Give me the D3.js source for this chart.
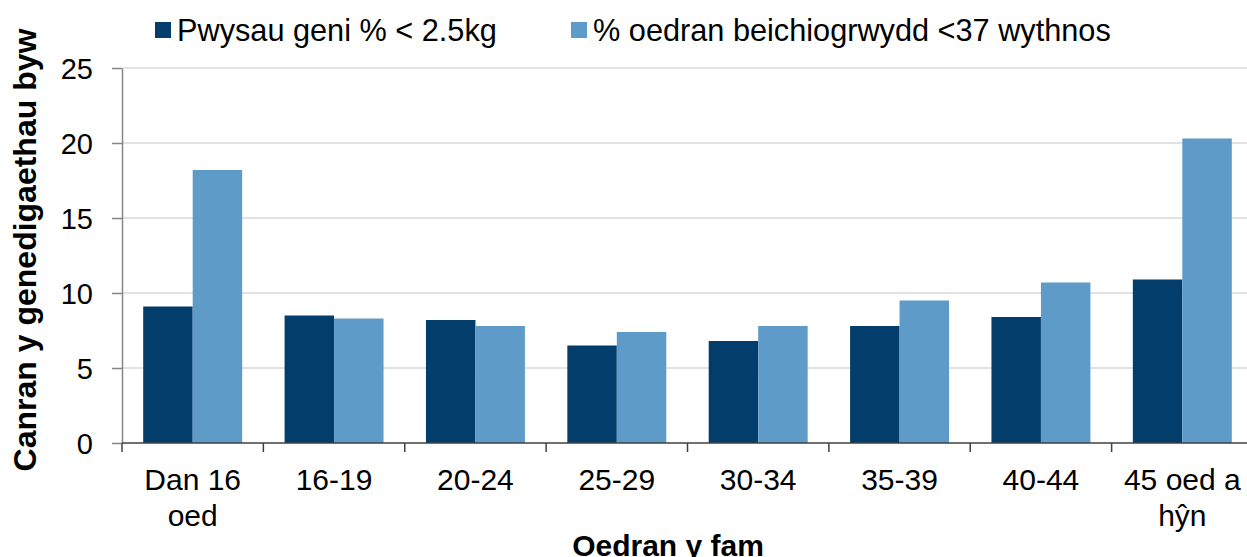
<!DOCTYPE html>
<meta charset="utf-8">
<script src="https://d3js.org/d3.v7.min.js"></script>
<style>
body { margin: 0; background: #fff; }
text { font-family: "Liberation Sans", Arial, sans-serif; fill: #000; }
.grid line { stroke: #d9d9d9; stroke-width: 1.5px; }
.yaxis path, .yaxis line { stroke: #868686; stroke-width: 1.5px; }
.xaxis line { stroke: #404040; stroke-width: 1.5px; }
</style>
<body>
<script>
// age groups of the mother
var categories = ["Dan 16|oed", "16-19", "20-24", "25-29", "30-34", "35-39", "40-44", "45 oed a|hŷn"];
var seriesNames = ["Pwysau geni % < 2.5kg", "% oedran beichiogrwydd <37 wythnos"];
var lowWeight = [9.1, 8.5, 8.2, 6.5, 6.8, 7.8, 8.4, 10.9];
var preterm = [18.2, 8.3, 7.8, 7.4, 7.8, 9.5, 10.7, 20.3];
var yTicks = [0, 5, 10, 15, 20, 25];
var colors = ["#023d6b", "#5e9bc8"];

var width = 1247,
    height = 557;

var svg = d3.select("body").append("svg")
    .attr("width", width)
    .attr("height", height);

var x = d3.scaleBand()
    .domain(categories)
    .range([122, 1253])
    .paddingInner(0.3)
    .paddingOuter(0.15);

var x1 = d3.scaleBand()
    .domain([0, 1])
    .range([0, x.bandwidth()]);

var y = d3.scaleLinear()
    .domain([0, 25])
    .range([443, 68]);

// gridlines
svg.append("g")
    .attr("class", "grid")
    .selectAll("line")
    .data(yTicks.slice(1))
  .enter().append("line")
    .attr("x1", 122)
    .attr("x2", width)
    .attr("y1", d => y(d))
    .attr("y2", d => y(d));

// bars
var rows = categories.map((c, i) => ({cat: c, vals: [lowWeight[i], preterm[i]]}));

var groups = svg.append("g")
    .selectAll("g")
    .data(rows)
  .enter().append("g")
    .attr("transform", d => "translate(" + x(d.cat) + ",0)");

groups.selectAll("rect")
    .data(d => d.vals.map((v, j) => ({v: v, j: j})))
  .enter().append("rect")
    .attr("x", d => x1(d.j))
    .attr("y", d => y(d.v))
    .attr("width", x1.bandwidth())
    .attr("height", d => y(0) - y(d.v))
    .style("fill", d => colors[d.j]);

// y axis
var yAxis = svg.append("g")
    .attr("class", "yaxis")
    .attr("transform", "translate(122,0)")
    .call(d3.axisLeft(y).tickValues(yTicks).tickSize(10).tickPadding(19).tickSizeOuter(0));
yAxis.selectAll("text")
    .style("font-size", "29px")
    .attr("dy", "0.36em");

// x axis with ticks between categories
var xAxis = svg.append("g")
    .attr("class", "xaxis");
xAxis.append("line")
    .attr("x1", 122).attr("x2", width)
    .attr("y1", y(0)).attr("y2", y(0));
xAxis.selectAll(".tick")
    .data(categories)
  .enter().append("line")
    .attr("x1", d => x(d) - x.step() * x.paddingOuter())
    .attr("x2", d => x(d) - x.step() * x.paddingOuter())
    .attr("y1", y(0))
    .attr("y2", y(0) + 9);

var labels = svg.append("g")
    .selectAll("text")
    .data(categories)
  .enter().append("text")
    .attr("x", d => x(d) + x.bandwidth() / 2)
    .attr("y", 490)
    .attr("text-anchor", "middle")
    .style("font-size", "30px");
labels.selectAll("tspan")
    .data(d => d.split("|"))
  .enter().append("tspan")
    .attr("x", function() { return d3.select(this.parentNode).attr("x"); })
    .attr("dy", (d, i) => i ? 36 : 0)
    .text(d => d);

// axis titles
svg.append("text")
    .attr("transform", "translate(36,250) rotate(-90)")
    .attr("text-anchor", "middle")
    .style("font-size", "32px")
    .style("font-weight", "bold")
    .text("Canran y genedigaethau byw");

svg.append("text")
    .attr("x", 668)
    .attr("y", 556)
    .attr("text-anchor", "middle")
    .style("font-size", "30px")
    .style("font-weight", "bold")
    .text("Oedran y fam");

// legend
var legendX = [155, 571];
var legend = svg.append("g")
    .selectAll("g")
    .data(seriesNames)
  .enter().append("g")
    .attr("transform", (d, i) => "translate(" + legendX[i] + ",0)");
legend.append("rect")
    .attr("x", 0).attr("y", 22)
    .attr("width", 16).attr("height", 16)
    .style("fill", (d, i) => colors[i]);
legend.append("text")
    .attr("x", 22)
    .attr("y", 41)
    .style("font-size", "30.7px")
    .text(d => d);
</script>
</body>
</html>
